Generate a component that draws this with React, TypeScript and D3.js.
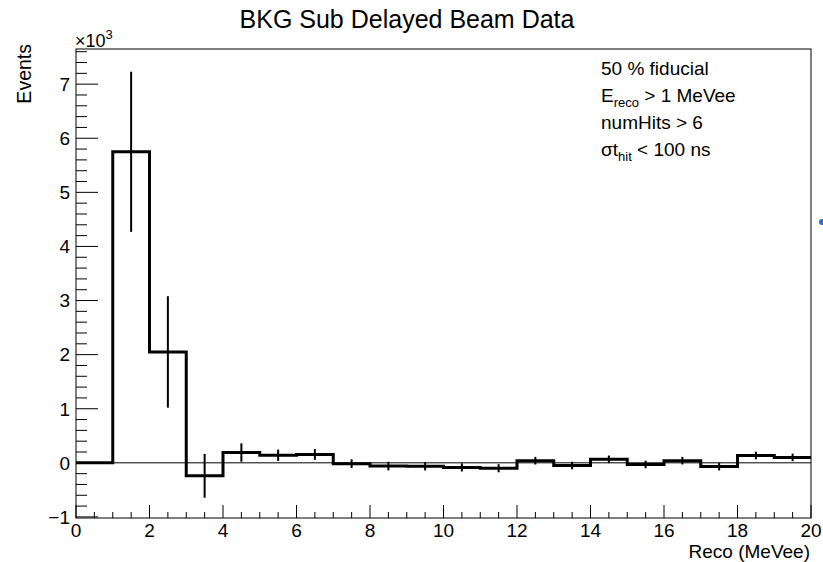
import React from "react";
import * as d3 from "d3";

// ---- data ----
const binEdgesLow = [0, 1, 2, 3, 4, 5, 6, 7, 8, 9, 10, 11, 12, 13, 14, 15, 16, 17, 18, 19];
const binWidth = 1;
const counts = [0, 5750, 2050, -240, 190, 140, 155, -15, -60, -65, -85, -100, 40, -50, 65, -30, 40, -70, 135, 100];
const errors = [0, 1480, 1030, 405, 170, 105, 100, 80, 80, 75, 75, 75, 70, 70, 70, 70, 70, 70, 70, 70];
const xTickLabels = ["0", "2", "4", "6", "8", "10", "12", "14", "16", "18", "20"];
const yTickLabels = ["\u22121", "0", "1", "2", "3", "4", "5", "6", "7"];
const titleText = "BKG Sub Delayed Beam Data";
const xTitle = "Reco (MeVee)";
const yTitle = "Events";

const W = 823;
const H = 562;
const FONT = "'Liberation Sans', Arial, Helvetica, sans-serif";

export default function App() {
  const left = 76, right = 811, top = 49, bottom = 518;
  const x = d3.scaleLinear().domain([0, 20]).range([left, right]);
  const y = d3.scaleLinear().domain([-1020, 7650]).range([bottom, top]);

  const pts: [number, number][] = binEdgesLow.map((e, i) => [e, counts[i]]);
  pts.push([binEdgesLow[binEdgesLow.length - 1] + binWidth, counts[counts.length - 1]]);
  const stepLine = d3
    .line<[number, number]>()
    .x((d) => x(d[0]))
    .y((d) => y(d[1]))
    .curve(d3.curveStepAfter);

  const xMajor = d3.range(0, 20.001, 2);
  const xMinor = d3.range(0, 20.001, 0.5).filter((v) => Math.abs(v / 2 - Math.round(v / 2)) > 1e-6);
  const yMajor = d3.range(-1000, 7001, 1000);
  const yMinor = d3.range(-1000, 7601, 200).filter((v) => v % 1000 !== 0);

  const fs = 19;

  return (
    <svg
      width={W}
      height={H}
      style={{ position: "absolute", left: 0, top: 0, background: "#fff" }}
      fontFamily={FONT}
    >
      <rect x={0} y={0} width={W} height={H} fill="#fff" />
      {/* title */}
      <text x={407} y={28} fontSize={25} textAnchor="middle" fill="#000">
        {titleText}
      </text>

      {/* frame */}
      <rect x={left} y={top} width={right - left} height={bottom - top} fill="none" stroke="#000" strokeWidth={1} />

      {/* zero line */}
      <line x1={left} x2={right} y1={y(0)} y2={y(0)} stroke="#000" strokeWidth={1} />

      {/* y ticks */}
      {yMajor.map((v) => (
        <line key={"ym" + v} x1={left} x2={left + 22} y1={y(v)} y2={y(v)} stroke="#000" strokeWidth={1} />
      ))}
      {yMinor.map((v) => (
        <line key={"yn" + v} x1={left} x2={left + 11} y1={y(v)} y2={y(v)} stroke="#000" strokeWidth={1} />
      ))}
      {yMajor.map((v, i) => (
        <text key={"yl" + v} x={70} y={y(v) + 0.36 * fs} fontSize={fs} textAnchor="end" fill="#000">
          {yTickLabels[i]}
        </text>
      ))}

      {/* x ticks */}
      {xMajor.map((v) => (
        <line key={"xm" + v} x1={x(v)} x2={x(v)} y1={bottom} y2={bottom - 13} stroke="#000" strokeWidth={1} />
      ))}
      {xMinor.map((v) => (
        <line key={"xn" + v} x1={x(v)} x2={x(v)} y1={bottom} y2={bottom - 6} stroke="#000" strokeWidth={1} />
      ))}
      {xMajor.map((v, i) => (
        <text key={"xl" + v} x={x(v)} y={537} fontSize={fs} textAnchor="middle" fill="#000">
          {xTickLabels[i]}
        </text>
      ))}

      {/* exponent */}
      <text x={75} y={47} fontSize={18} fill="#000">
        ×10
        <tspan fontSize={13} dy={-8}>3</tspan>
      </text>

      {/* axis titles */}
      <text x={right - 1} y={558} fontSize={19} textAnchor="end" fill="#000">
        {xTitle}
      </text>
      <text transform={`translate(31,${top - 5}) rotate(-90)`} fontSize={19.5} textAnchor="end" fill="#000">
        {yTitle}
      </text>

      {/* histogram */}
      <path d={stepLine(pts) || ""} fill="none" stroke="#000" strokeWidth={3} />
      {counts.map((c, i) =>
        errors[i] > 0 ? (
          <line
            key={"e" + i}
            x1={x(binEdgesLow[i] + binWidth / 2)}
            x2={x(binEdgesLow[i] + binWidth / 2)}
            y1={y(c - errors[i])}
            y2={y(c + errors[i])}
            stroke="#000"
            strokeWidth={2}
          />
        ) : null
      )}

      {/* legend text */}
      <g fontSize={fs} fill="#000">
        <text x={601} y={75}>50 % fiducial</text>
        <text x={601} y={102}>
          E<tspan fontSize={13} dy={5}>reco</tspan>
          <tspan dy={-5}> &gt; 1 MeVee</tspan>
        </text>
        <text x={601} y={129}>numHits &gt; 6</text>
        <text x={601} y={156}>
          σt<tspan fontSize={13} dy={5}>hit</tspan>
          <tspan dy={-5}> &lt; 100 ns</tspan>
        </text>
      </g>

      {/* small blue artifact at right edge */}
      <circle cx={822} cy={222} r={3} fill="#2f6fd0" />
    </svg>
  );
}
